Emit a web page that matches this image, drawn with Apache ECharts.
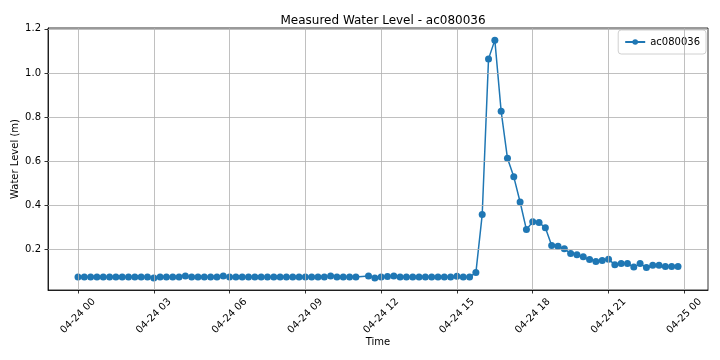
<!DOCTYPE html>
<html>
<head>
<meta charset="utf-8">
<script src="https://cdn.jsdelivr.net/npm/echarts@6/dist/echarts.min.js"></script>
<style>html,body{margin:0;padding:0;background:#fff}#c{width:720px;height:360px}</style>
</head>
<body>
<div id="c"></div>
<script>
var times = [
'00:00','00:15','00:30','00:45','01:00','01:15','01:30','01:45','02:00','02:15','02:30','02:45',
'03:00','03:15','03:30','03:45','04:00','04:15','04:30','04:45','05:00','05:15','05:30','05:45',
'06:00','06:15','06:30','06:45','07:00','07:15','07:30','07:45','08:00','08:15','08:30','08:45',
'09:00','09:15','09:30','09:45','10:00','10:15','10:30','10:45','11:00','11:30','11:45',
'12:00','12:15','12:30','12:45','13:00','13:15','13:30','13:45','14:00','14:15','14:30','14:45',
'15:00','15:15','15:30','15:45','16:00','16:15','16:30','16:45','17:00','17:15','17:30','17:45',
'18:00','18:15','18:30','18:45','19:00','19:15','19:30','19:45','20:00','20:15','20:30','20:45',
'21:00','21:15','21:30','21:45','22:00','22:15','22:30','22:45','23:00','23:15','23:30','23:45'
];
var levels = [
0.075,0.075,0.075,0.075,0.075,0.075,0.075,0.075,0.075,0.075,0.075,0.075,
0.070,0.075,0.075,0.075,0.075,0.080,0.075,0.075,0.075,0.075,0.075,0.080,
0.075,0.075,0.075,0.075,0.075,0.075,0.075,0.075,0.075,0.075,0.075,0.075,
0.075,0.075,0.075,0.075,0.080,0.075,0.075,0.075,0.075,0.080,0.070,
0.075,0.077,0.080,0.075,0.075,0.075,0.075,0.075,0.075,0.075,0.075,0.075,
0.078,0.075,0.075,0.095,0.358,1.064,1.149,0.826,0.613,0.529,0.415,0.290,
0.325,0.322,0.298,0.218,0.214,0.203,0.181,0.176,0.167,0.154,0.145,0.150,
0.155,0.131,0.136,0.136,0.120,0.136,0.118,0.128,0.128,0.123,0.122,0.122
];
var xTickHours = [0,3,6,9,12,15,18,21,24];
var xTickLabels = ['04-24 00','04-24 03','04-24 06','04-24 09','04-24 12','04-24 15','04-24 18','04-24 21','04-25 00'];
var yTicks = [0.2,0.4,0.6,0.8,1.0,1.2];
var yTickLabels = ['0.2','0.4','0.6','0.8','1.0','1.2'];

function toHours(s){var p=s.split(':');return (+p[0])+(+p[1])/60;}
var data = times.map(function(t,i){return [toHours(t), levels[i]];});

var xMin = -1.1875, xMax = 24.9375, yMin = 0.016, yMax = 1.204;
var F = 'DejaVu Sans';
var gridColor = '#b0b0b0';

var chart = echarts.init(document.getElementById('c'), null, {renderer:'canvas'});
chart.setOption({
  animation:false,
  backgroundColor:'#fff',
  textStyle:{fontFamily:F},
  title:{text:'Measured Water Level - ac080036', left:378, top:10, textAlign:'center',
    textStyle:{fontFamily:F,fontSize:12,fontWeight:'normal',color:'#000'}},
  legend:{right:14, top:30, padding:[7,6,7,6], borderColor:'#d0d0d0', borderWidth:1, borderRadius:3,
    backgroundColor:'#fff', itemWidth:20, itemHeight:7,
    textStyle:{fontFamily:F,fontSize:10,color:'#000'}, data:['ac080036']},
  grid:{left:48,right:12,top:28,bottom:70,show:true,borderColor:'#000',borderWidth:0.8,backgroundColor:'transparent',
    containLabel:false,outerBoundsMode:'none'},
  xAxis:{type:'value',min:xMin,max:xMax,
    name:'Time',nameLocation:'middle',nameGap:47,nameMoveOverlap:false,nameTextStyle:{fontFamily:F,fontSize:10,color:'#000'},
    axisLine:{show:true,onZero:false,lineStyle:{color:'#000',width:0.8}},
    axisTick:{show:true,length:3.5,lineStyle:{color:'#000',width:0.8},customValues:xTickHours},
    axisLabel:{customValues:xTickHours,rotate:45,align:'center',verticalAlign:'middle',margin:26,
      fontFamily:F,fontSize:10,color:'#000',
      formatter:function(v){var i=xTickHours.indexOf(v);return i>=0?xTickLabels[i]:'';}},
    splitLine:{show:false}},
  yAxis:{type:'value',min:yMin,max:yMax,
    name:'Water Level (m)',nameLocation:'middle',nameGap:28,nameMoveOverlap:false,nameTextStyle:{fontFamily:F,fontSize:10,color:'#000'},
    axisLine:{show:true,onZero:false,lineStyle:{color:'#000',width:0.8}},
    axisTick:{show:true,length:3.5,lineStyle:{color:'#000',width:0.8},customValues:yTicks},
    axisLabel:{customValues:yTicks,margin:7,fontFamily:F,fontSize:10,color:'#000',
      formatter:function(v){var i=-1;for(var k=0;k<yTicks.length;k++){if(Math.abs(yTicks[k]-v)<1e-9)i=k;}return i>=0?yTickLabels[i]:'';}},
    splitLine:{show:false}},
  series:[
    {type:'line',name:'grid',data:[],z:1,silent:true,
      markLine:{silent:true,symbol:['none','none'],animation:false,label:{show:false},
        lineStyle:{color:gridColor,width:0.8,type:'solid'},
        emphasis:{disabled:true},
        data:xTickHours.map(function(h){return {xAxis:h};}).concat(yTicks.map(function(v){return {yAxis:v};}))}},
    {type:'line',name:'ac080036',data:data,z:3,
      color:'#1f77b4',
      lineStyle:{color:'#1f77b4',width:1.5},
      itemStyle:{color:'#1f77b4'},
      symbol:'circle',symbolSize:7,showSymbol:true,showAllSymbol:true}
  ]
});
</script>
</body>
</html>
